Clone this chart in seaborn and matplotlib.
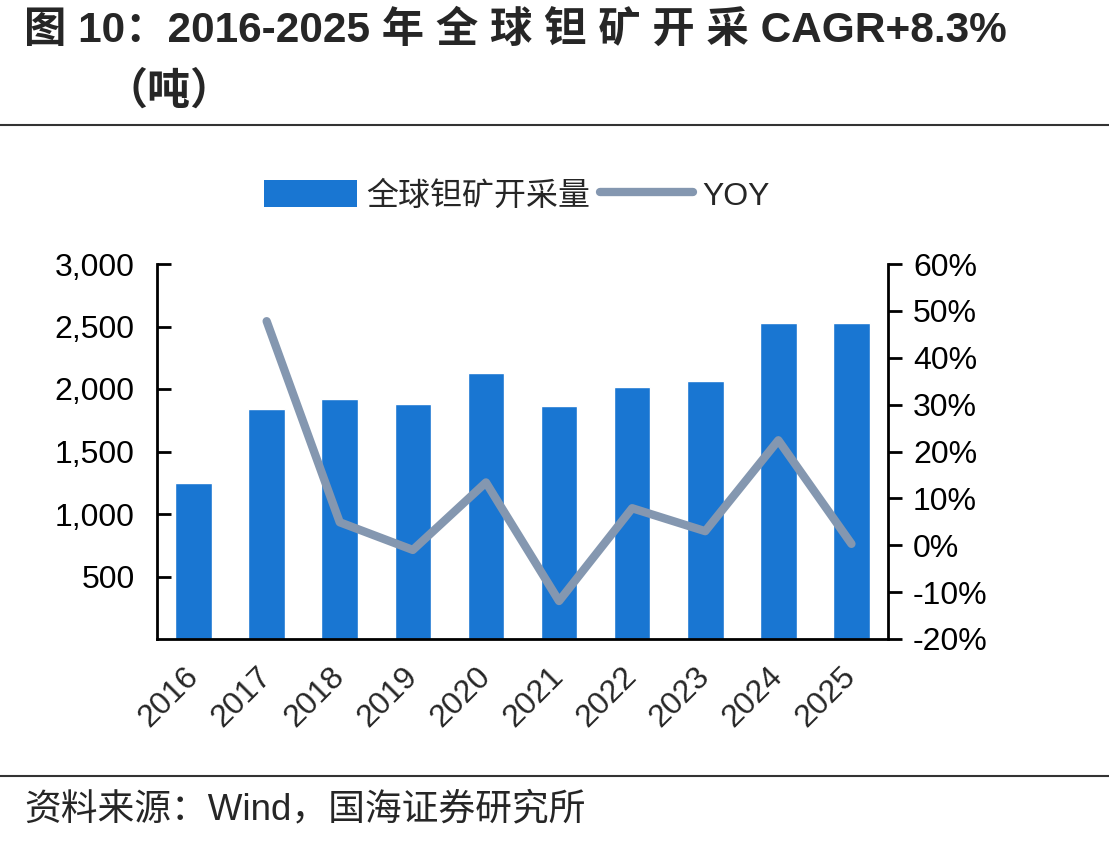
import numpy as np
import pandas as pd
import matplotlib
matplotlib.use("Agg")
import matplotlib.pyplot as plt
import seaborn as sns
from matplotlib.ticker import FixedLocator, FuncFormatter
from matplotlib.lines import Line2D
from matplotlib.patches import Patch

years = ["2016", "2017", "2018", "2019", "2020", "2021", "2022", "2023", "2024", "2025"]
output_t = [1247, 1840, 1920, 1880, 2128, 1867, 2015, 2063, 2528, 2528]
yoy_years = ["2017", "2018", "2019", "2020", "2021", "2022", "2023", "2024", "2025"]
yoy_pct = [47.8, 4.9, -1.0, 13.4, -11.9, 7.9, 3.0, 22.4, 0.3]
left_ticks = [500, 1000, 1500, 2000, 2500, 3000]
right_ticks = [-20, -10, 0, 10, 20, 30, 40, 50, 60]

title_line1 = "图 10：2016-2025 年 全 球 钽 矿 开 采 CAGR+8.3%"
title_line2 = "（吨）"
source_text = "资料来源：Wind，国海证券研究所"
bar_label = "全球钽矿开采量"
line_label = "YOY"

BAR_C = "#1976D2"
LINE_C = "#8497B0"

sns.set_style("white")
plt.rcParams["font.family"] = ["Liberation Sans", "Noto Sans CJK SC", "DejaVu Sans"]
plt.rcParams["axes.unicode_minus"] = False

fig = plt.figure(figsize=(11.09, 8.44), dpi=100)
ax = fig.add_axes([157 / 1109, 1 - 639 / 844, (888 - 157) / 1109, (639 - 264) / 844])

df = pd.DataFrame({"year": years, "val": output_t})
sns.barplot(data=df, x="year", y="val", color=BAR_C, width=0.5, saturation=1, ax=ax)
ax.set_xlim(-0.5, len(years) - 0.5)
ax.set_ylim(0, 3000)
ax.set_xlabel("")
ax.set_ylabel("")
ax.yaxis.set_major_locator(FixedLocator(left_ticks))
ax.yaxis.set_major_formatter(FuncFormatter(lambda v, p: f"{int(v):,}"))
ax.tick_params(axis="y", direction="in", length=10, width=2, labelsize=23, pad=16, colors="black")
ax.tick_params(axis="x", which="major", length=0, labelsize=23, pad=24)
ax.xaxis.set_minor_locator(FixedLocator(np.arange(-0.5, len(years), 1.0)))
ax.tick_params(axis="x", which="minor", direction="in", length=10, width=2)
for lab in ax.get_xticklabels():
    lab.set_rotation(45)
    lab.set_ha("right")
    lab.set_va("center")
    lab.set_rotation_mode("anchor")
for s in ["left", "bottom"]:
    ax.spines[s].set_linewidth(2)
    ax.spines[s].set_color("black")
ax.spines["top"].set_visible(False)
ax.spines["right"].set_visible(False)

ax2 = ax.twinx()
xpos = [years.index(y) for y in yoy_years]
sns.lineplot(x=xpos, y=yoy_pct, color=LINE_C, linewidth=6, ax=ax2,
             solid_capstyle="round", solid_joinstyle="round")
ax2.set_ylim(-20, 60)
ax2.yaxis.set_major_locator(FixedLocator(right_ticks))
ax2.yaxis.set_major_formatter(FuncFormatter(lambda v, p: f"{int(v)}%"))
ax2.tick_params(axis="y", direction="out", length=10, width=2, labelsize=23, pad=8, colors="black")
ax2.spines["right"].set_linewidth(2)
ax2.spines["right"].set_color("black")
for s in ["top", "left", "bottom"]:
    ax2.spines[s].set_visible(False)
ax2.set_xlim(-0.5, len(years) - 0.5)

handles = [Patch(facecolor=BAR_C, edgecolor="none"),
           Line2D([0], [0], color=LINE_C, linewidth=6, solid_capstyle="round")]
leg = fig.legend(handles, [bar_label, line_label], loc="center",
                 bbox_to_anchor=(517 / 1109, 1 - 196 / 844), ncol=2, frameon=False,
                 fontsize=23, handlelength=2.9, handleheight=0.9, handletextpad=0.3,
                 columnspacing=0.3)

fig.text(24 / 1109, 1 - 31 / 844, title_line1, ha="left", va="center", fontsize=30.5,
         fontweight="bold")
fig.text(104 / 1109, 1 - 92 / 844, title_line2, ha="left", va="center", fontsize=31,
         fontweight="bold")
fig.add_artist(Line2D([0, 1], [1 - 125 / 844, 1 - 125 / 844], color="#333333", linewidth=1.5,
                      transform=fig.transFigure))
fig.add_artist(Line2D([0, 1], [1 - 776 / 844, 1 - 776 / 844], color="#333333", linewidth=1.5,
                      transform=fig.transFigure))
fig.text(24 / 1109, 1 - 810 / 844, source_text, ha="left", va="center", fontsize=26.5)

fig.savefig("out.png", dpi=100)
